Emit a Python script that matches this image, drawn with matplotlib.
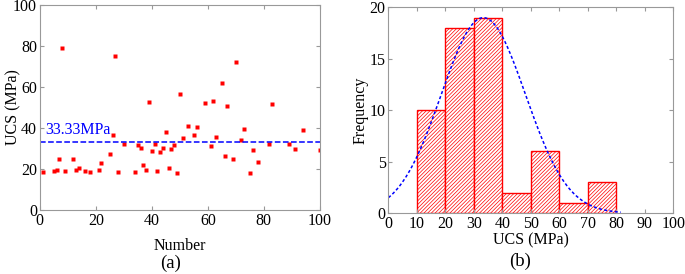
import numpy as np
import matplotlib
matplotlib.use("Agg")
import matplotlib.pyplot as plt

plt.rcParams['font.family'] = ['Liberation Serif', 'DejaVu Serif']
plt.rcParams['font.size'] = 11.5
plt.rcParams['hatch.linewidth'] = 0.5
plt.rcParams['xtick.direction'] = 'in'
plt.rcParams['ytick.direction'] = 'in'

# (a) sample number vs UCS
number = [1, 5, 6, 7, 8, 9, 12, 13, 14, 16, 18, 21, 22, 25, 26, 27, 28, 30,
          34, 35, 36, 37, 38, 39, 40, 41, 42, 43, 44, 45, 46, 47, 48, 49, 50,
          51, 53, 55, 56, 59, 61, 62, 63, 65, 66, 67, 69, 70, 72, 73, 75, 76,
          78, 82, 83, 89, 91, 94, 100]
ucs = [18.5, 18.9, 19.5, 24.7, 79.2, 18.9, 24.7, 19.5, 20.5, 18.9, 18.5, 19.5,
       23.1, 27.3, 36.4, 75.2, 18.5, 32.2, 18.4, 31.6, 30.0, 22.0, 19.7, 52.7,
       28.7, 32.1, 18.9, 28.2, 30.4, 38.0, 20.2, 29.6, 31.7, 17.9, 56.4, 34.9,
       40.9, 36.3, 40.2, 52.3, 31.3, 52.9, 35.8, 61.9, 26.3, 50.6, 24.8, 72.2,
       33.9, 39.6, 17.9, 29.3, 23.4, 32.2, 51.5, 32.2, 29.8, 38.8, 29.3]
mean_ucs = 33.33

# (b) histogram
bin_left = [10, 20, 30, 40, 50, 60, 70]
freq = [10, 18, 19, 2, 6, 1, 3]
fit_peak = 19.0
fit_std = 14.8
fit_end = 81.5

fig = plt.figure(figsize=(6.85, 2.74), dpi=100)
spine_col = '#999999'

ax1 = fig.add_axes([0.058, 0.234, 0.409, 0.748])
ax1.plot(number, ucs, 's', color='red', ms=2.8, mec='none')
ax1.plot([0, 100], [mean_ucs, mean_ucs], '--', color='blue', lw=1.1)
ax1.text(2, mean_ucs + 1.5, '%.2fMPa' % mean_ucs, color='blue',
         va='bottom', ha='left')
ax1.set_xlim(0, 100)
ax1.set_ylim(0, 100)
ax1.set_xticks(range(0, 101, 20))
ax1.set_yticks(range(0, 101, 20))
ax1.set_xlabel('Number')
ax1.set_ylabel('UCS (MPa)')
ax1.xaxis.set_label_coords(0.5, -0.135)
ax1.yaxis.set_label_coords(-0.066, 0.5)

ax2 = fig.add_axes([0.567, 0.222, 0.416, 0.751])
ax2.bar(bin_left, freq, width=10, align='edge', color='white',
        edgecolor='red', hatch='/////////', lw=1.0)
xs = np.linspace(0, fit_end, 200)
ax2.plot(xs, fit_peak * np.exp(-(xs - mean_ucs) ** 2 / (2 * fit_std ** 2)),
         color='blue', lw=1.1, dashes=(2, 1.5))
ax2.set_xlim(0, 100)
ax2.set_ylim(0, 20)
ax2.set_xticks(range(0, 101, 10))
ax2.set_yticks(range(0, 21, 5))
ax2.set_xlabel('UCS (MPa)')
ax2.set_ylabel('Frequency')
ax2.xaxis.set_label_coords(0.5, -0.095)
ax2.yaxis.set_label_coords(-0.071, 0.5)

fig.text(171 / 685, 0.038, '(a)', ha='center', va='center', fontsize=13.5)
fig.text(520 / 685, 0.045, '(b)', ha='center', va='center', fontsize=13.5)

for ax in (ax1, ax2):
    for s in ax.spines.values():
        s.set_color(spine_col)
    ax.tick_params(top=True, right=True, color=spine_col, length=3, pad=2)

fig.savefig('out.png', dpi=100)
